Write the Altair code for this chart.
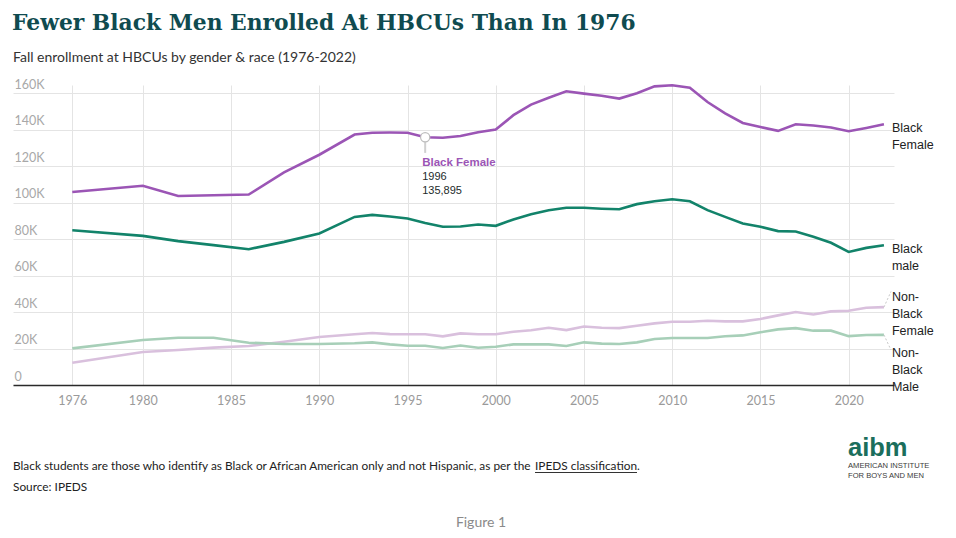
import altair as alt
import pandas as pd

# ---------------- data ----------------
years = [1976, 1980, 1982, 1984, 1986, 1988, 1990, 1992, 1993, 1994, 1995, 1996,
         1997, 1998, 1999, 2000, 2001, 2002, 2003, 2004, 2005, 2006, 2007, 2008,
         2009, 2010, 2011, 2012, 2013, 2014, 2015, 2016, 2017, 2018, 2019, 2020,
         2021, 2022]

black_female = [105900, 109300, 103700, 104100, 104500, 116600, 126300, 137400,
                138400, 138500, 138400, 135895, 135600, 136600, 138600, 140100,
                148000, 153800, 157600, 161100, 159800, 158700, 157100, 160000,
                163800, 164400, 163000, 155200, 149000, 143700, 141500, 139400,
                143000, 142300, 141200, 139200, 141000, 143000]

black_male = [84900, 81800, 78900, 76700, 74500, 78500, 83100, 92200, 93300,
              92400, 91300, 88900, 86800, 86900, 88000, 87300, 90800, 93700,
              95900, 97200, 97200, 96700, 96400, 99200, 100800, 101900, 100800,
              95900, 92200, 88600, 86800, 84400, 84200, 81300, 78000, 73000,
              75200, 76700]

nonblack_female = [12200, 18100, 19200, 20500, 21400, 23700, 26300, 27800, 28500,
                   27900, 27800, 27800, 26700, 28300, 27800, 27800, 29200, 30000,
                   31400, 30100, 32100, 31400, 31200, 32500, 33800, 34700, 34700,
                   35200, 34900, 34900, 36200, 38200, 40000, 38700, 40400, 40700,
                   42400, 42700]

nonblack_male = [20100, 24700, 25900, 25900, 23200, 22500, 22500, 22900, 23400,
                 22300, 21500, 21500, 20300, 21700, 20400, 21000, 22300, 22300,
                 22300, 21400, 23400, 22700, 22500, 23400, 25200, 25800, 25800,
                 25800, 26700, 27200, 28900, 30500, 31200, 29800, 29800, 26800,
                 27400, 27500]

series_names = ["Black Female", "Black male", "Non-Black Female", "Non-Black Male"]
series_colors = ["#9b55b5", "#12836a", "#d9c0dd", "#a7cfb8"]
series_widths = [2.6, 2.6, 2.0, 2.0]

x_ticks = [1976, 1980, 1985, 1990, 1995, 2000, 2005, 2010, 2015, 2020]
y_ticks = [0, 20000, 40000, 60000, 80000, 100000, 120000, 140000, 160000]

# end-of-line labels (one row per text line)
label_lines = ["Black", "Female", "Black", "male", "Non-", "Black", "Female",
               "Non-", "Black", "Male"]
label_values = [141000, 131700, 74600, 65300, 48300, 39000, 29700, 17600, 8300, -1000]

# highlighted point
ann_year = 1996
ann_value = 135895
ann_title = "Black Female"
ann_lines = ["1996", "135,895"]

title_text = "Fewer Black Men Enrolled At HBCUs Than In 1976"
subtitle_text = "Fall enrollment at HBCUs by gender & race (1976-2022)"
note_text = ("Black students are those who identify as Black or African American "
             "only and not Hispanic, as per the")
note_link = "IPEDS classification"
source_text = "Source: IPEDS"
figure_text = "Figure 1"

# ---------------- frames ----------------
rows = []
for name, vals in zip(series_names,
                      [black_female, black_male, nonblack_female, nonblack_male]):
    for yr, v in zip(years, vals):
        rows.append({"year": yr, "value": v, "series": name})
df = pd.DataFrame(rows)

df_labels = pd.DataFrame({"year": [2022] * len(label_lines),
                          "value": label_values, "text": label_lines})

ends = df[df["year"] == 2022]
leader_targets = {"Non-Black Female": 206.5, "Non-Black Male": 265}

df_ann = pd.DataFrame({"year": [ann_year], "value": [ann_value],
                       "stem_top": [ann_value - 2600], "stem_bot": [127300]})

FONT = "Liberation Sans"
SANS = "Lato"

x_scale = alt.Scale(domain=[1972.64, 2022.57], nice=False, zero=False)
y_scale = alt.Scale(domain=[0, 164550], nice=False, zero=False)

x_axis = alt.Axis(values=x_ticks, format="d", title=None, grid=True,
                  gridColor="#e4e4e4", gridWidth=1, domainColor="#2a2a2a",
                  domainWidth=1.5, ticks=False, labelColor="#9a9a9a",
                  labelFont="Lato", labelFontSize=12.5, labelPadding=9,
                  labelFlush=False)
y_axis = alt.Axis(values=y_ticks, title=None, grid=True, gridColor="#e4e4e4",
                  gridWidth=1, domain=False, ticks=False, tickSize=0,
                  labelAlign="left", labelPadding=-1, labelBaseline="alphabetic",
                  labelOffset=-5, labelColor="#a8a8a8", labelFont="Lato",
                  labelFontSize=12.5,
                  labelExpr="datum.value == 0 ? '0' : format(datum.value / 1000, 'd') + 'K'")

X = alt.X("year:Q", scale=x_scale, axis=x_axis)
Y = alt.Y("value:Q", scale=y_scale, axis=y_axis)

color_enc = alt.Color("series:N", scale=alt.Scale(domain=series_names,
                                                   range=series_colors), legend=None)
width_enc = alt.StrokeWidth("series:N", scale=alt.Scale(domain=series_names,
                                                         range=series_widths), legend=None)

lines = alt.Chart(df).mark_line(interpolate="linear").encode(
    x=X, y=Y, color=color_enc, strokeWidth=width_enc, detail="series:N")

leader_layers = []
for name, ypx in leader_targets.items():
    d = ends[ends["series"] == name]
    leader_layers.append(
        alt.Chart(d).mark_rule(color="#c8c8c8", strokeDash=[2, 2],
                               strokeWidth=1).encode(
            x=X, y=Y, x2=alt.value(878), y2=alt.value(ypx))
    )

labels = alt.Chart(df_labels).mark_text(align="left", baseline="middle", dx=8,
                                        font=FONT, fontSize=12.5,
                                        color="#222222").encode(
    x=X, y=Y, text="text:N")

ann_base = alt.Chart(df_ann)
stem = ann_base.mark_rule(color="#d0d0d0", strokeWidth=2).encode(
    x=X, y=alt.Y("stem_top:Q", scale=y_scale, axis=y_axis), y2="stem_bot:Q")
circle = ann_base.mark_point(shape="circle", size=85, filled=True, fill="white",
                             stroke="#bdbdbd", strokeWidth=1.2, opacity=1).encode(
    x=X, y=Y)
ann_t = ann_base.mark_text(align="left", baseline="middle", dx=-3, dy=25.5,
                           font=FONT, fontSize=11.5, fontWeight="bold",
                           color="#9b55b5").encode(x=X, y=Y, text=alt.value(ann_title))
ann_l1 = ann_base.mark_text(align="left", baseline="middle", dx=-3, dy=40,
                            font=FONT, fontSize=11, color="#1d2b2b").encode(
    x=X, y=Y, text=alt.value(ann_lines[0]))
ann_l2 = ann_base.mark_text(align="left", baseline="middle", dx=-3, dy=53.5,
                            font=FONT, fontSize=11, color="#1d2b2b").encode(
    x=X, y=Y, text=alt.value(ann_lines[1]))


def free_text(txt, x, y, **kw):
    return alt.Chart(pd.DataFrame({"t": [txt]})).mark_text(**kw).encode(
        text="t:N", x=alt.value(x), y=alt.value(y))


title = free_text(title_text, -1, -55, align="left", baseline="alphabetic",
                  font="DejaVu Serif", fontSize=21.8, fontWeight="bold",
                  color="#0f4b50")
subtitle = free_text(subtitle_text, 0, -23, align="left", baseline="alphabetic",
                     font=SANS, fontSize=14, color="#333333")
note = free_text(note_text, 0, 385, align="left", baseline="alphabetic",
                 font=SANS, fontSize=11.85, color="#222222")
note_l = free_text(note_link, 522, 385, align="left", baseline="alphabetic",
                   font=SANS, fontSize=11.85, color="#222222")
note_dot = free_text(".", 624, 385, align="left", baseline="alphabetic",
                     font=SANS, fontSize=11.85, color="#222222")
underline = alt.Chart(pd.DataFrame({"u": [1]})).mark_rule(
    color="#333333", strokeWidth=1).encode(
    x=alt.value(522), x2=alt.value(624), y=alt.value(387.5))
source = free_text(source_text, 0, 406, align="left", baseline="alphabetic",
                   font=SANS, fontSize=11.85, color="#222222")
figure = free_text(figure_text, 468, 442, align="center", baseline="alphabetic",
                   font=SANS, fontSize=14, color="#8a8a8a")
logo = free_text("aibm", 835, 371, align="left", baseline="alphabetic",
                 font=FONT, fontSize=25.5, fontWeight="bold", color="#1b6e5c")
logo1 = free_text("AMERICAN INSTITUTE", 835, 383, align="left",
                  baseline="alphabetic", font=FONT, fontSize=7.6,
                  color="#3a3a3a")
logo2 = free_text("FOR BOYS AND MEN", 835, 393, align="left",
                  baseline="alphabetic", font=FONT, fontSize=7.6,
                  color="#3a3a3a")

chart = alt.layer(
    lines, *leader_layers, labels, stem, circle, ann_t, ann_l1, ann_l2,
    title, subtitle, note, note_l, note_dot, underline, source, figure,
    logo, logo1, logo2,
).properties(
    width=881, height=300,
    autosize=alt.AutoSizeParams(type="none"),
    padding={"left": 5, "top": 77, "right": 54, "bottom": 145},
    background="white",
).configure_view(stroke=None)

chart.save("out.html", embed_options={"renderer": "svg", "actions": False})
